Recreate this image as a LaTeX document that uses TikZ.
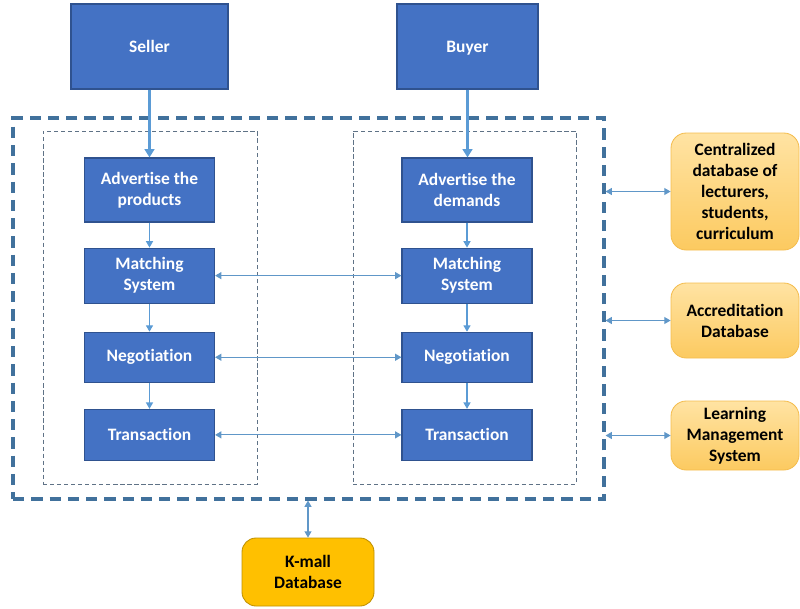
\documentclass[tikz,border=0pt]{standalone}
\usepackage{fontspec}
\setmainfont{Carlito}[Ligatures=NoCommon]
\usetikzlibrary{positioning,arrows.meta}

\definecolor{boxblue}{HTML}{4472C4}
\definecolor{boxedge}{HTML}{2F528F}
\definecolor{arrowblue}{HTML}{5B9BD5}
\definecolor{framecol}{HTML}{41719C}
\definecolor{innercol}{HTML}{5F7286}
\definecolor{dbtop}{HTML}{FFE3A3}
\definecolor{dbbottom}{HTML}{FCCA60}
\definecolor{dbedge}{HTML}{F4BD4F}
\definecolor{kmallfill}{HTML}{FFC000}
\definecolor{kmalledge}{HTML}{BF9000}

\tikzset{
  blockbox/.style={rectangle, draw=boxedge, line width=0.8pt, fill=boxblue, text=white,
    font=\fontsize{12.4}{15}\selectfont\bfseries, align=center, minimum width=3.25cm},
  actorbox/.style={blockbox, minimum height=2.125cm},
  dbbox/.style={rectangle, rounded corners=0.38cm, draw=dbedge, line width=0.6pt,
    top color=dbtop, bottom color=dbbottom, text=black,
    font=\fontsize{12.4}{15}\selectfont\bfseries, align=center, minimum width=3.2cm},
  outerframe/.style={rectangle, draw=framecol, line width=2.2pt, dash pattern=on 8pt off 5pt},
  innerframe/.style={rectangle, draw=innercol, line width=0.7pt, dash pattern=on 3pt off 2pt},
  flow/.style={draw=arrowblue, line width=0.8pt, -{Triangle[length=4.5pt,width=5pt]}},
  bigflow/.style={draw=arrowblue, line width=2.2pt, -{Triangle[length=6pt,width=7pt]}},
  link/.style={draw=arrowblue!85!gray, line width=0.8pt, {Triangle[length=4.5pt,width=5pt]}-{Triangle[length=4.5pt,width=5pt]}}
}

\begin{document}
\begin{tikzpicture}[node distance=0.625cm]
  \useasboundingbox (0,0) rectangle (20,-15.2);

  % Frames
  \node[outerframe, minimum width=14.775cm, minimum height=9.525cm] (frame) at (7.7125,-7.7125) {};
  \node[innerframe, minimum width=5.35cm, minimum height=8.825cm] (sellerside) at (3.75,-7.6875) {};
  \node[innerframe, minimum width=5.575cm, minimum height=8.825cm] (buyerside) at (11.6125,-7.6875) {};

  % Seller and Buyer
  \node[actorbox, minimum width=3.925cm] (seller) at (3.7375,-1.1625) {Seller};
  \node[actorbox, minimum width=3.525cm, text depth=0pt] (buyer) at (11.6875,-1.1625) {\raisebox{-1pt}{Buyer}};

  % Seller column
  \node[blockbox, minimum height=1.6cm] (advL) at (3.7375,-4.75) {Advertise the\\products};
  \node[blockbox, minimum height=1.375cm, below=of advL] (matchL) {Matching\\System};
  \node[blockbox, minimum height=1.25cm, below=0.7cm of matchL] (negoL) {Negotiation};
  \node[blockbox, minimum height=1.275cm, below=0.65cm of negoL] (transL) {Transaction};

  % Buyer column
  \node[blockbox, minimum height=1.6cm] (advR) at (11.675,-4.75) {Advertise the\\demands};
  \node[blockbox, minimum height=1.375cm, below=of advR] (matchR) {Matching\\System};
  \node[blockbox, minimum height=1.25cm, below=0.7cm of matchR] (negoR) {Negotiation};
  \node[blockbox, minimum height=1.275cm, below=0.65cm of negoR] (transR) {Transaction};

  % Databases
  \node[dbbox, minimum height=2.925cm] (central) at (18.375,-4.7875) {Centralized\\database of\\lecturers,\\students,\\curriculum};
  \node[dbbox, minimum height=1.875cm] (accred) at (18.375,-8.0125) {Accreditation\\Database};
  \node[dbbox, minimum height=1.725cm] (lms) at (18.375,-10.8875) {Learning\\Management\\System};
  \node[dbbox, rounded corners=0.35cm, draw=kmalledge, top color=kmallfill, bottom color=kmallfill,
    minimum width=3.3cm, minimum height=1.7cm] (kmall) at (7.7,-14.3) {K-mall\\Database};

  % Connections
  \draw[bigflow] (seller) -- (advL);
  \draw[bigflow] (buyer) -- (buyer |- advR.north);
  \draw[flow] (advL) -- (matchL);
  \draw[flow] (matchL) -- (negoL);
  \draw[flow] (negoL) -- (transL);
  \draw[flow] (advR) -- (matchR);
  \draw[flow] (matchR) -- (negoR);
  \draw[flow] (negoR) -- (transR);
  \draw[link] (matchL) -- (matchR);
  \draw[link] (negoL) -- (negoR);
  \draw[link] (transL) -- (transR);
  \draw[link] (frame.east |- central.west) -- (central.west);
  \draw[link] (frame.east |- accred.west) -- (accred.west);
  \draw[link] (frame.east |- lms.west) -- (lms.west);
  \draw[link] (frame.south -| kmall.north) -- (kmall.north);
\end{tikzpicture}
\end{document}
